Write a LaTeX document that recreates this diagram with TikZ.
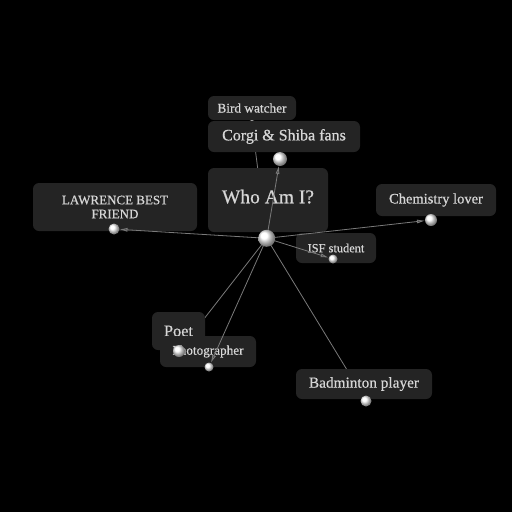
\documentclass[tikz,border=0pt]{standalone}
\usepackage{fontspec}
\setmainfont[FakeBold=0.6]{Liberation Serif}
\usetikzlibrary{arrows.meta}
\definecolor{boxgray}{HTML}{242424}
\definecolor{txtgray}{HTML}{D6D6D6}
\definecolor{linegray}{HTML}{7A7A7A}
\definecolor{tipgray}{HTML}{4A4A4A}
\tikzset{
  lbl/.style={fill=boxgray, rounded corners=6pt, text=txtgray, inner sep=0pt, align=center},
  ball/.style={circle, inner sep=0pt, minimum size=#1, shading=ball, ball color=white},
  link/.style={draw=linegray, line width=0.8pt, -{Latex[length=8pt,width=4pt,fill=tipgray]}},
}
\begin{document}
\begin{tikzpicture}[x=1pt,y=-1pt]
\fill[black] (0,0) rectangle (512,512);
\useasboundingbox (0,0) rectangle (512,512);
% sphere positions
\coordinate (pc) at (266.7,238.3);
\coordinate (pbird) at (252,124);
\coordinate (pcorgi) at (280,159);
\coordinate (plaw) at (114,229);
\coordinate (pchem) at (431,220);
\coordinate (pisf) at (333,259);
\coordinate (ppoet) at (179,351);
\coordinate (pphoto) at (209,367);
\coordinate (pbad) at (366,401);
% Bird watcher
\node[lbl, minimum width=88pt, minimum height=24pt, font=\fontsize{13.3}{15}\selectfont] (bbird) at (252,108) {Bird watcher};
\node[ball=8pt] (sbird) at (pbird) {};
\draw[link, shorten >=4pt] (pc) -- (pbird);
% Corgi
\node[lbl, minimum width=152pt, minimum height=31pt, font=\fontsize{16}{18}\selectfont] (bcorgi) at (284,136.5) {Corgi \& Shiba fans};
% Who Am I
\node[lbl, minimum width=120pt, minimum height=64pt, font=\fontsize{19.5}{22}\selectfont] (bwho) at (268,200) {\raisebox{7pt}{Who Am I?}};
\draw[link, shorten >=7pt] (pc) -- (pcorgi);
\node[ball=14pt] (scorgi) at (pcorgi) {};
% Lawrence
\node[lbl, minimum width=164pt, minimum height=48pt, font=\fontsize{13}{14}\selectfont] (blaw) at (115,207) {LAWRENCE BEST\\FRIEND};
\draw[link, shorten >=5.5pt] (pc) -- (plaw);
\node[ball=11pt] (slaw) at (plaw) {};
% Chemistry and ISF
\node[lbl, minimum width=120pt, minimum height=32pt, font=\fontsize{14.5}{16}\selectfont] (bchem) at (436,200) {\raisebox{-3pt}{Chemistry lover}};
\node[lbl, minimum width=80pt, minimum height=30pt, font=\fontsize{12.4}{14}\selectfont] (bisf) at (336,248) {ISF student};
\draw[link, shorten >=6pt] (pc) -- (pchem);
\draw[link, shorten >=4.5pt] (pc) -- (pisf);
\node[ball=12pt] (schem) at (pchem) {};
\node[ball=9pt] (sisf) at (pisf) {};
% Poet and Photographer
\draw[link, shorten >=6pt] (pc) -- (ppoet);
\node[lbl, minimum width=53pt, minimum height=38pt, font=\fontsize{16.3}{18}\selectfont] (bpoet) at (178.5,331) {Poet};
\node[lbl, minimum width=96pt, minimum height=31pt, font=\fontsize{13.2}{15}\selectfont] (bphoto) at (208,351.5) {Photographer};
\draw[link, shorten >=4.5pt] (pc) -- (pphoto);
\node[ball=12pt] (spoet) at (ppoet) {};
\node[ball=9pt] (sphoto) at (pphoto) {};
% Badminton
\draw[link, shorten >=5.5pt] (pc) -- (pbad);
\node[lbl, minimum width=136pt, minimum height=30pt, font=\fontsize{15.3}{17}\selectfont] (bbad) at (364,384) {Badminton player};
\node[ball=11pt] (sbad) at (pbad) {};
% center
\node[ball=17pt] (sc) at (pc) {};
\end{tikzpicture}
\end{document}
